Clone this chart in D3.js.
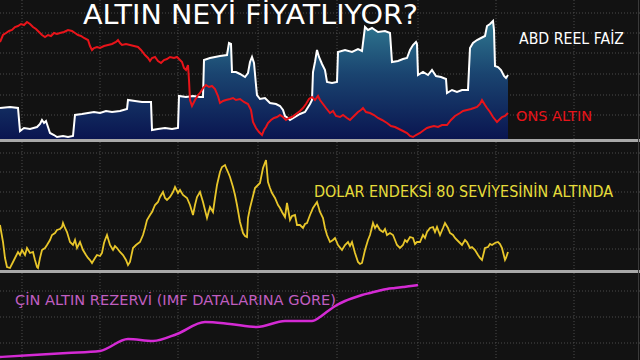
<!DOCTYPE html>
<html>
<head>
<meta charset="utf-8">
<script src="https://cdn.jsdelivr.net/npm/d3@7"></script>
<style>
  body { margin: 0; background: #121212; }
  svg { display: block; }
</style>
</head>
<body>
<div id="chart"></div>
<script>
// chart size
var svgWidth = 640;
var svgHeight = 360;

var realRate = [[0,108],[10,107],[18,108],[20,131],[24,128],[30,129],[37,127],[40,124],[42,120],[44,123],[46,121],[48,127],[50,133],[54,135],[57,137],[63,136],[68,137],[73,136],[75,115],[82,114],[88,113],[94,112],[100,113],[106,111],[112,112],[120,111],[127,109],[128,100],[135,101],[142,102],[151,102],[152,130],[158,129],[165,128],[172,129],[178,128],[179,96],[186,97],[193,96],[200,97],[203,97],[204,60],[210,58],[215,57],[220,56],[227,55],[229,43],[231,44],[232,72],[236,72],[240,74],[245,77],[248,73],[250,62],[252,57],[254,63],[256,85],[257,95],[260,99],[265,98],[270,103],[276,104],[280,106],[283,110],[285,116],[288,118],[290,120],[295,117],[300,114],[305,112],[310,104],[312,100],[313,72],[315,62],[317,50],[319,57],[322,64],[325,70],[327,82],[332,83],[337,82],[338,52],[345,50],[352,52],[358,49],[362,51],[365,27],[368,30],[372,28],[378,32],[385,31],[390,33],[392,62],[398,61],[403,59],[407,58],[410,50],[413,45],[416,42],[417,44],[418,75],[423,72],[428,75],[432,70],[436,76],[441,77],[446,79],[447,93],[452,90],[457,92],[462,90],[468,90],[470,48],[473,43],[477,40],[481,38],[485,36],[487,26],[490,24],[493,21],[494,30],[495,66],[498,67],[501,70],[504,76],[506,78],[508,75]];

var goldOunce = [[0,42],[3,35],[6,33],[9,31],[12,30],[15,27],[18,26],[21,24],[24,25],[27,22],[30,24],[33,27],[36,29],[39,32],[42,35],[45,37],[48,35],[51,36],[54,33],[57,34],[60,33],[64,32],[68,30],[72,31],[75,33],[78,35],[81,36],[84,38],[88,40],[90,46],[92,50],[94,48],[97,47],[100,48],[104,46],[108,45],[112,44],[116,42],[118,40],[120,43],[122,45],[126,44],[130,45],[134,46],[138,47],[141,50],[145,55],[148,58],[150,61],[152,58],[155,57],[158,61],[161,63],[164,60],[167,59],[170,57],[174,58],[177,57],[180,60],[182,62],[184,68],[186,70],[188,65],[189,80],[190,100],[192,106],[195,100],[198,95],[200,93],[203,88],[206,85],[209,87],[212,86],[215,89],[218,96],[220,103],[223,101],[226,100],[230,99],[233,98],[236,100],[240,99],[244,102],[248,104],[251,110],[253,122],[256,128],[259,132],[262,135],[264,130],[266,127],[268,123],[271,120],[274,118],[277,117],[280,115],[283,117],[286,120],[289,118],[292,117],[296,114],[300,111],[303,108],[306,104],[309,99],[312,97],[315,100],[318,96],[320,100],[323,104],[326,108],[330,113],[333,111],[336,116],[340,117],[343,115],[347,118],[350,120],[354,116],[358,112],[361,110],[363,108],[366,112],[370,113],[374,115],[378,118],[382,120],[387,123],[391,126],[395,127],[399,129],[403,131],[407,133],[410,136],[413,137],[416,135],[420,133],[424,130],[427,128],[430,127],[434,126],[438,127],[442,125],[447,125],[451,120],[455,116],[460,113],[463,111],[467,110],[471,109],[474,108],[477,107],[480,104],[482,100],[485,105],[487,108],[490,112],[493,117],[497,122],[500,119],[502,117],[505,116],[508,113]];

var dollarIndex = [[0,225],[3,242],[5,258],[7,267],[10,268],[13,262],[15,258],[18,252],[20,255],[22,250],[25,255],[27,248],[30,253],[33,252],[35,260],[37,267],[38,268],[40,258],[42,250],[45,248],[47,245],[50,240],[52,235],[55,233],[57,230],[60,229],[62,227],[63,223],[65,228],[67,232],[70,242],[73,245],[75,240],[77,248],[80,242],[83,250],[86,255],[88,258],[90,260],[92,263],[95,258],[97,255],[100,256],[102,253],[104,243],[105,240],[107,235],[110,245],[113,250],[115,246],[117,248],[120,252],[123,255],[126,260],[128,265],[130,262],[133,248],[136,245],[140,242],[143,235],[145,228],[147,220],[150,215],[152,212],[155,205],[158,202],[160,197],[163,192],[165,198],[167,200],[170,197],[173,192],[175,187],[178,193],[180,190],[183,195],[187,198],[190,205],[193,215],[195,205],[197,197],[200,192],[203,202],[205,210],[207,218],[210,207],[213,212],[215,198],[217,185],[220,172],[222,167],[225,165],[227,170],[228,172],[230,177],[233,187],[235,195],[237,205],[240,222],[243,233],[245,236],[247,237],[248,218],[250,208],[252,200],[255,188],[258,185],[260,183],[263,168],[266,160],[268,182],[270,188],[272,193],[275,198],[278,205],[280,208],[282,212],[285,217],[287,203],[290,220],[292,216],[295,215],[297,225],[300,225],[303,228],[305,224],[307,223],[310,215],[313,208],[317,202],[320,212],[323,218],[325,228],[327,235],[330,242],[333,240],[335,238],[338,245],[342,250],[345,245],[348,242],[350,246],[352,242],[355,253],[358,262],[360,264],[362,263],[365,250],[368,240],[370,235],[373,223],[375,228],[377,225],[380,230],[383,232],[385,229],[387,235],[390,233],[393,235],[395,240],[397,245],[400,248],[403,245],[405,240],[407,242],[410,237],[413,238],[415,244],[417,242],[420,242],[423,235],[425,238],[427,232],[430,228],[433,227],[435,232],[437,227],[440,235],[443,228],[445,223],[448,228],[450,233],[453,235],[455,238],[457,240],[460,243],[462,245],[465,240],[467,242],[470,248],[472,247],[475,250],[478,255],[480,258],[482,260],[485,248],[488,247],[490,244],[492,245],[495,243],[498,242],[500,244],[502,248],[505,260],[506,258],[508,252]];

var chinaReserve = [[0,357],[33,355],[67,353],[100,351],[128,339],[153,341],[177,334],[205,322],[230,324],[257,327],[285,321],[312,321],[320,317],[328,311],[337,305],[345,301],[353,298],[362,295],[370,293],[378,291],[387,289],[395,288],[403,287],[411,286],[418,285]];

// background grid positions (chart units)
var gridT = [22, 100, 178, 258, 337, 418, 496, 574];
var grid1 = [13, 33, 53, 74, 95, 115];
var grid2 = [153, 172, 192, 211, 230, 249];
var grid3 = [291, 317, 343];

// panels: top/bottom in pixels, matching readings
var panels = [
  {top: 0, bottom: 139, lo: 0, hi: 139, grid: grid1},
  {top: 142, bottom: 270, lo: 142, hi: 270, grid: grid2},
  {top: 273, bottom: 360, lo: 273, hi: 360, grid: grid3}
];

var svg = d3.select("#chart")
  .append("svg")
  .attr("width", svgWidth)
  .attr("height", svgHeight);

svg.append("rect")
  .attr("width", svgWidth)
  .attr("height", svgHeight)
  .attr("fill", "#121212");

var xScale = d3.scaleLinear().domain([0, 640]).range([0, svgWidth]);

// gradient for the real rate area
var defs = svg.append("defs");
var grad = defs.append("linearGradient")
  .attr("id", "areaGrad")
  .attr("x1", 0).attr("y1", 0).attr("x2", 0).attr("y2", 1);
grad.append("stop").attr("offset", "0%").attr("stop-color", "#2f7890");
grad.append("stop").attr("offset", "45%").attr("stop-color", "#1a4470");
grad.append("stop").attr("offset", "100%").attr("stop-color", "#0a1550");

panels.forEach(function(p) {
  p.y = d3.scaleLinear().domain([p.lo, p.hi]).range([p.top, p.bottom]);

  // vertical grid
  svg.append("g").selectAll("line")
    .data(gridT)
    .enter()
    .append("line")
    .attr("x1", d => xScale(d)).attr("x2", d => xScale(d))
    .attr("y1", p.top).attr("y2", p.bottom)
    .attr("stroke", "#4a4a4a")
    .attr("stroke-dasharray", "1,2");

  // horizontal grid
  svg.append("g").selectAll("line")
    .data(p.grid)
    .enter()
    .append("line")
    .attr("x1", 0).attr("x2", svgWidth)
    .attr("y1", d => p.y(d)).attr("y2", d => p.y(d))
    .attr("stroke", "#4a4a4a")
    .attr("stroke-dasharray", "1,2");
});

var p1 = panels[0], p2 = panels[1], p3 = panels[2];

// Panel 1: real rate area + line, gold line
var area = d3.area()
  .x(d => xScale(d[0]))
  .y0(p1.bottom)
  .y1(d => p1.y(d[1]));

svg.append("path")
  .datum(realRate)
  .attr("d", area)
  .attr("fill", "url(#areaGrad)");

var line1 = d3.line().x(d => xScale(d[0])).y(d => p1.y(d[1]));

svg.append("path")
  .datum(realRate)
  .attr("d", line1)
  .attr("fill", "none")
  .attr("stroke", "#ffffff")
  .attr("stroke-width", 2);

svg.append("path")
  .datum(goldOunce)
  .attr("d", line1)
  .attr("fill", "none")
  .attr("stroke", "#e8141a")
  .attr("stroke-width", 2);

// Panel 2: dollar index
var line2 = d3.line().x(d => xScale(d[0])).y(d => p2.y(d[1]));
svg.append("path")
  .datum(dollarIndex)
  .attr("d", line2)
  .attr("fill", "none")
  .attr("stroke", "#e8c62a")
  .attr("stroke-width", 1.8);

// Panel 3: China gold reserve
var line3 = d3.line().x(d => xScale(d[0])).y(d => p3.y(d[1])).curve(d3.curveMonotoneX);
svg.append("path")
  .datum(chinaReserve)
  .attr("d", line3)
  .attr("fill", "none")
  .attr("stroke", "#d42ad4")
  .attr("stroke-width", 2.5);

// separators between panels
[140.5, 271.5].forEach(function(yy) {
  svg.append("line")
    .attr("x1", 0).attr("x2", svgWidth)
    .attr("y1", yy).attr("y2", yy)
    .attr("stroke", "#a8a8a8")
    .attr("stroke-width", 3);
});

// right edge
svg.append("line")
  .attr("x1", 638.5).attr("x2", 638.5)
  .attr("y1", 0).attr("y2", svgHeight)
  .attr("stroke", "#3a3a3a");

// texts
var font = "'DejaVu Sans', sans-serif";

svg.append("text")
  .attr("x", 83).attr("y", 24)
  .attr("fill", "#ffffff")
  .attr("font-family", font)
  .attr("font-size", 26)
  .attr("textLength", 335)
  .attr("lengthAdjust", "spacingAndGlyphs")
  .text("ALTIN NEYİ FİYATLIYOR?");

svg.append("text")
  .attr("x", 519).attr("y", 44)
  .attr("fill", "#ffffff")
  .attr("font-family", font)
  .attr("font-size", 15)
  .attr("textLength", 105)
  .attr("lengthAdjust", "spacingAndGlyphs")
  .text("ABD REEL FAİZ");

svg.append("text")
  .attr("x", 516).attr("y", 121)
  .attr("fill", "#e8141a")
  .attr("font-family", font)
  .attr("font-size", 14)
  .attr("textLength", 76)
  .attr("lengthAdjust", "spacingAndGlyphs")
  .text("ONS ALTIN");

svg.append("text")
  .attr("x", 314).attr("y", 197)
  .attr("fill", "#e6dc3a")
  .attr("font-family", font)
  .attr("font-size", 15)
  .attr("textLength", 299)
  .attr("lengthAdjust", "spacingAndGlyphs")
  .text("DOLAR ENDEKSİ 80 SEVİYESİNİN ALTINDA");

svg.append("text")
  .attr("x", 15).attr("y", 305)
  .attr("fill", "#c05ec0")
  .attr("font-family", font)
  .attr("font-size", 14)
  .attr("textLength", 321)
  .attr("lengthAdjust", "spacingAndGlyphs")
  .text("ÇİN ALTIN REZERVİ (IMF DATALARINA GÖRE)");
</script>
</body>
</html>
